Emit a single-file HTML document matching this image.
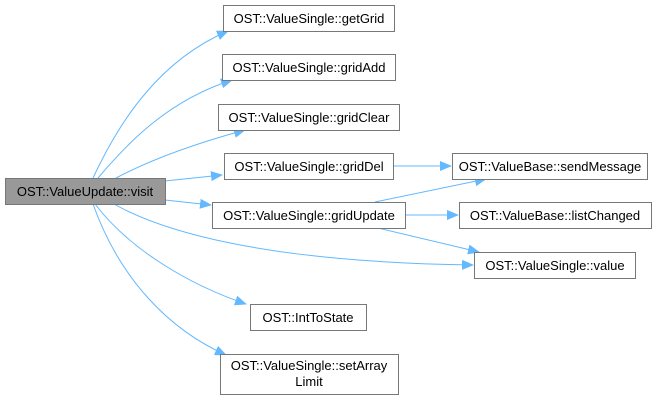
<!DOCTYPE html>
<html><head><style>body{margin:0;background:#fff}</style></head><body>
<svg width="663" height="400" xmlns="http://www.w3.org/2000/svg" font-family="Liberation Sans, sans-serif" font-size="13">
<defs><marker id="a" markerWidth="12" markerHeight="10" refX="11" refY="5" orient="auto" markerUnits="userSpaceOnUse"><path d="M0,0 L12,5 L0,10 z" fill="#63b8ff"/></marker></defs>
<g fill="none" stroke="#63b8ff" stroke-width="1" marker-end="url(#a)">
<path d="M93,178 C120,120 160,60 228,31"/>
<path d="M98,178 C130,140 170,100 232,80"/>
<path d="M116,178 C150,160 190,145 245,130"/>
<path d="M165,181 L222,175"/>
<path d="M165,200 L211,205"/>
<path d="M114,204 C160,230 260,262 473,265"/>
<path d="M95,204 C130,250 190,285 246,304"/>
<path d="M93,204 C120,280 170,330 226,355"/>
<path d="M393,166 L451,166"/>
<path d="M375,202 L486,179"/>
<path d="M405,215 L458,215"/>
<path d="M378,228 L479,252"/>
</g>
<g stroke="#777" fill="#fff">
<rect x="5.5" y="178.5" width="160" height="26" fill="#999"/>
<rect x="223.5" y="5.5" width="171" height="26"/>
<rect x="222.5" y="54.5" width="173" height="26"/>
<rect x="218.5" y="104.5" width="181" height="26"/>
<rect x="224.5" y="153.5" width="169" height="26"/>
<rect x="212.5" y="202.5" width="193" height="26"/>
<rect x="452.5" y="153.5" width="195" height="26"/>
<rect x="459.5" y="202.5" width="192" height="26"/>
<rect x="474.5" y="252.5" width="161" height="26"/>
<rect x="250.5" y="304.5" width="116" height="26"/>
<rect x="220.5" y="354.5" width="178" height="40"/>
</g>
<g fill="#000" text-anchor="middle">
<text x="85" y="196">OST::ValueUpdate::visit</text>
<text x="309" y="23">OST::ValueSingle::getGrid</text>
<text x="309" y="72">OST::ValueSingle::gridAdd</text>
<text x="309" y="122">OST::ValueSingle::gridClear</text>
<text x="309" y="171">OST::ValueSingle::gridDel</text>
<text x="309" y="220">OST::ValueSingle::gridUpdate</text>
<text x="550" y="171">OST::ValueBase::sendMessage</text>
<text x="555" y="220">OST::ValueBase::listChanged</text>
<text x="555" y="270">OST::ValueSingle::value</text>
<text x="308" y="322">OST::IntToState</text>
<text x="309" y="370">OST::ValueSingle::setArray</text>
<text x="309" y="386">Limit</text>
</g>
</svg>
</body></html>
